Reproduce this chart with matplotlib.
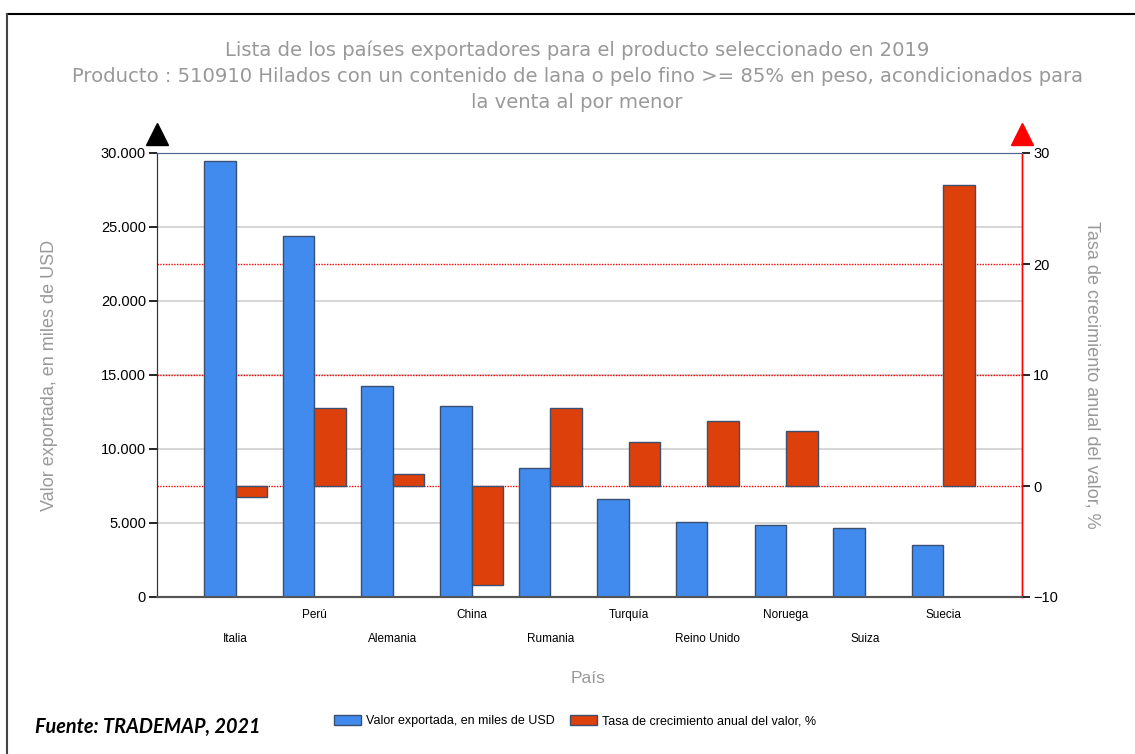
import matplotlib
matplotlib.use("Agg")
import matplotlib.pyplot as plt
import matplotlib.patches as mpatches
from matplotlib.lines import Line2D
from matplotlib.ticker import FuncFormatter
from matplotlib.transforms import blended_transform_factory

# Data
paises = ["Italia", "Perú", "Alemania", "China", "Rumania",
          "Turquía", "Reino Unido", "Noruega", "Suiza", "Suecia"]
valor_exportado = [29450, 24400, 14250, 12900, 8700,
                   6620, 5070, 4870, 4670, 3520]
tasa_crecimiento = [-1.0, 7.0, 1.1, -8.9, 7.0,
                    4.0, 5.9, 5.0, float("nan"), 27.1]
ticks_izq = [0, 5000, 10000, 15000, 20000, 25000, 30000]
ticks_der = [-10, 0, 10, 20, 30]
rejilla_der = [0, 10, 20]

titulo = ["Lista de los países exportadores para el producto seleccionado en 2019",
          "Producto : 510910 Hilados con un contenido de lana o pelo fino >= 85% en peso, acondicionados para",
          "la venta al por menor"]

AZUL = "#418bee"
ROJO = "#dd400a"
BORDE = "#3b5070"
GRIS_TXT = "#999999"
W, H = 1135, 754

plt.rcParams["font.family"] = ["Liberation Sans", "DejaVu Sans"]

fig = plt.figure(figsize=(W / 100, H / 100), dpi=100)

# outer frame (top and left edges visible)
fig.add_artist(Line2D([7 / W, 1.0], [1 - 14 / H, 1 - 14 / H], color="black", lw=1.5,
                      transform=fig.transFigure))
fig.add_artist(Line2D([7 / W, 7 / W], [0.0, 1 - 14 / H], color="#444444", lw=1.5,
                      transform=fig.transFigure))

# title
for i, linea in enumerate(titulo):
    fig.text(577 / W, 1 - (50 + 26.5 * i) / H, linea, ha="center", va="center",
             fontsize=14.1, color=GRIS_TXT, family=["DejaVu Sans"])

ax = fig.add_axes([157 / W, 1 - 597 / H, (1022 - 157) / W, (597 - 153) / H])
ax2 = ax.twinx()

x = list(range(len(paises)))
ancho = 0.4
ax.bar([i - ancho / 2 for i in x], valor_exportado, width=ancho, color=AZUL,
       edgecolor=BORDE, linewidth=1, zorder=3)
ax2.bar([i + ancho / 2 for i in x], tasa_crecimiento, width=ancho, color=ROJO,
        edgecolor=BORDE, linewidth=1, zorder=3)

ax.set_xlim(-1, 10)
ax.set_ylim(0, 30000)
ax2.set_ylim(-10, 30)
ax.set_yticks(ticks_izq)
ax2.set_yticks(ticks_der)
ax.yaxis.set_major_formatter(FuncFormatter(lambda v, p: f"{int(v):,}".replace(",", ".")))

# gridlines below all bars
ax.set_axisbelow(True)
ax.yaxis.grid(True, color="#d0d0d0", lw=1.2)
trans = blended_transform_factory(ax.transAxes, ax2.transData)
for v in rejilla_der:
    ax.plot([0, 1], [v, v], transform=trans, color="red", ls=(0, (1, 1)), lw=1, zorder=1.5)

# spines
for a in (ax, ax2):
    a.spines["top"].set_color("#4f6a8f")
    a.spines["bottom"].set_color("#555555")
    a.spines["bottom"].set_linewidth(1.5)
    a.spines["left"].set_color("#333333")
    a.spines["right"].set_color("red")
    a.spines["right"].set_linestyle((0, (1, 1)))
    a.spines["right"].set_linewidth(1)

ax.tick_params(axis="y", length=6, width=1.2, labelsize=10.5, pad=2)
ax2.tick_params(axis="y", length=6, width=1.2, labelsize=10.5, pad=2)

# staggered country labels
ax.set_xticks(x)
ax.set_xticklabels(paises, fontsize=8.5)
ax.tick_params(axis="x", length=0)
for i, t in enumerate(ax.xaxis.get_major_ticks()):
    t.set_pad(26 if i % 2 == 0 else 8.5)

ax.set_ylabel("Valor exportada, en miles de USD", fontsize=13, color=GRIS_TXT)
ax.yaxis.set_label_coords(-0.114, 0.5)
ax2.set_ylabel("Tasa de crecimiento anual del valor, %", fontsize=13,
               color=GRIS_TXT, rotation=270, va="center")
ax2.yaxis.set_label_coords(1.081, 0.5)
ax.set_xlabel("País", fontsize=12.5, color=GRIS_TXT)
ax.xaxis.set_label_coords(0.498, -0.167)

# arrow heads on top of the axes
ax.plot([0], [1.043], marker="^", color="black", markersize=16,
        transform=ax.transAxes, clip_on=False)
ax.plot([1], [1.043], marker="^", color="red", markersize=16,
        transform=ax.transAxes, clip_on=False)

handles = [mpatches.Patch(facecolor=AZUL, edgecolor=BORDE, label="Valor exportada, en miles de USD"),
           mpatches.Patch(facecolor=ROJO, edgecolor=BORDE, label="Tasa de crecimiento anual del valor, %")]
fig.legend(handles=handles, loc="center", bbox_to_anchor=(575 / W, 1 - 721 / H),
           ncol=2, frameon=False, fontsize=9, handlelength=2.2, handleheight=0.9,
           columnspacing=1.2, handletextpad=0.4)

fig.text(35 / W, 1 - 727 / H, "Fuente: TRADEMAP, 2021", fontsize=14.3,
         fontweight="bold", style="italic", va="center", ha="left",
         family=["Lato", "DejaVu Sans"])

fig.savefig("out.png", dpi=100)
